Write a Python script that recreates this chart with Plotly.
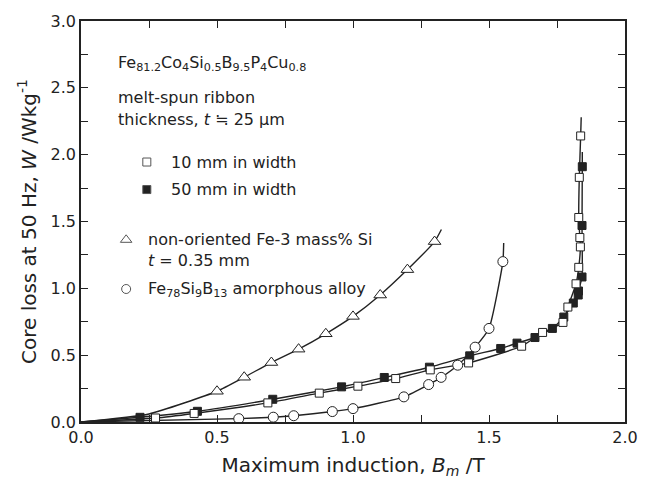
import plotly.graph_objects as go

# ---------------- data ----------------
# Fe81.2Co4Si0.5B9.5P4Cu0.8, 10 mm in width (open squares)
sq10_B = [0.274, 0.416, 0.687, 0.876, 1.018, 1.157, 1.284, 1.425, 1.62, 1.697,
          1.772, 1.79, 1.820, 1.830, 1.836, 1.834, 1.830, 1.832, 1.837]
sq10_W = [0.03, 0.064, 0.143, 0.216, 0.268, 0.325, 0.39, 0.442, 0.567, 0.67,
          0.745, 0.86, 1.034, 1.157, 1.31, 1.38, 1.53, 1.83, 2.14]
sq10_end = (1.839, 2.28)

# 50 mm in width (filled squares)
sq50_B = [0.217, 0.428, 0.705, 0.958, 1.115, 1.281, 1.429, 1.543, 1.603, 1.669,
          1.733, 1.775, 1.81, 1.828, 1.829, 1.842, 1.842, 1.843]
sq50_W = [0.035, 0.08, 0.17, 0.263, 0.333, 0.41, 0.495, 0.55, 0.59, 0.632,
          0.70, 0.785, 0.89, 0.95, 0.98, 1.085, 1.47, 1.91]
sq50_end = (1.843, 2.02)

# non-oriented Fe-3 mass% Si (open triangles)
tri_B = [0.5, 0.6, 0.7, 0.8, 0.9, 1.0, 1.1, 1.2, 1.3]
tri_W = [0.23, 0.335, 0.445, 0.545, 0.66, 0.79, 0.95, 1.14, 1.35]
tri_start = (0.25, 0.06)
tri_end = (1.325, 1.44)

# Fe78Si9B13 amorphous alloy (open circles)
cir_B = [0.58, 0.707, 0.782, 0.924, 1.0, 1.187, 1.278, 1.324, 1.385, 1.449, 1.50, 1.551]
cir_W = [0.025, 0.036, 0.047, 0.078, 0.10, 0.188, 0.28, 0.334, 0.425, 0.56, 0.70, 1.20]
cir_end = (1.554, 1.34)

x_ticks = [0.0, 0.5, 1.0, 1.5, 2.0]
y_ticks = [0.0, 0.5, 1.0, 1.5, 2.0, 2.5, 3.0]

# ---------------- styling ----------------
INK = "#222222"
FONT = "DejaVu Sans, Noto Sans CJK JP, sans-serif"
LW = 1.4

fig = go.Figure()


def add_curve(B, W, start=None, end=None):
    xs = [0.0] + ([start[0]] if start else []) + list(B) + ([end[0]] if end else [])
    ys = [0.0] + ([start[1]] if start else []) + list(W) + ([end[1]] if end else [])
    fig.add_trace(go.Scatter(x=xs, y=ys, mode="lines",
                             line=dict(color=INK, width=LW, shape="spline", smoothing=0.5),
                             hoverinfo="skip", showlegend=False))


add_curve(tri_B, tri_W, start=tri_start, end=tri_end)
add_curve(cir_B, cir_W, end=cir_end)
add_curve(sq50_B, sq50_W, end=sq50_end)
add_curve(sq10_B, sq10_W, end=sq10_end)


def add_markers(B, W, symbol, fill, size):
    fig.add_trace(go.Scatter(x=B, y=W, mode="markers",
                             marker=dict(symbol=symbol, size=size, color=fill,
                                         line=dict(color=INK, width=1)),
                             showlegend=False))


add_markers(tri_B, tri_W, "triangle-up", "white", 11)
add_markers(cir_B, cir_W, "circle", "white", 10)
add_markers(sq50_B, sq50_W, "square", INK, 8)
add_markers(sq10_B, sq10_W, "square", "white", 8)

# legend-style key markers
key = [
    (0.242, 1.945, "square", "white", 8),
    (0.242, 1.739, "square", INK, 8),
    (0.166, 1.363, "triangle-up", "white", 10),
    (0.166, 0.995, "circle", "white", 9),
]
for kx, ky, sym, col, sz in key:
    fig.add_trace(go.Scatter(x=[kx], y=[ky], mode="markers",
                             marker=dict(symbol=sym, size=sz, color=col,
                                         line=dict(color="#555555", width=1)),
                             showlegend=False, hoverinfo="skip"))

texts = [
    (0.130, 2.68, "Fe<sub>81.2</sub>Co<sub>4</sub>Si<sub>0.5</sub>B<sub>9.5</sub>P<sub>4</sub>Cu<sub>0.8</sub>"),
    (0.130, 2.43, "melt-spun ribbon"),
    (0.130, 2.26, "thickness, <i>t</i> ≒ 25 μm"),
    (0.325, 1.945, "10 mm in width"),
    (0.325, 1.739, "50 mm in width"),
    (0.239, 1.363, "non-oriented Fe-3 mass% Si"),
    (0.239, 1.209, "<i>t</i> = 0.35 mm"),
    (0.239, 0.995, "Fe<sub>78</sub>Si<sub>9</sub>B<sub>13</sub> amorphous alloy"),
]
for tx, ty, tt in texts:
    fig.add_annotation(x=tx, y=ty, xref="x", yref="y", text=tt, showarrow=False,
                       xanchor="left", yanchor="middle",
                       font=dict(family=FONT, size=16, color=INK))

axis_common = dict(
    showline=True, linecolor=INK, linewidth=1.5, mirror="ticks",
    ticks="inside", ticklen=7, tickwidth=1.2, tickcolor=INK,
    showgrid=False, zeroline=False,
    tickfont=dict(family=FONT, size=16, color=INK),
)

fig.update_xaxes(
    range=[0, 2.0], tickvals=x_ticks, ticktext=[f"{v:.1f}" for v in x_ticks],
    minor=dict(dtick=0.25, ticks="inside", ticklen=7, tickwidth=1.2, tickcolor=INK),
    title=dict(text="Maximum induction, <i>B</i><sub><i>m</i></sub> /T",
               font=dict(family=FONT, size=20, color=INK), standoff=12),
    **axis_common,
)
fig.update_yaxes(
    range=[0, 3.0], tickvals=y_ticks, ticktext=[f"{v:.1f}" for v in y_ticks],
    minor=dict(dtick=0.25, ticks="inside", ticklen=7, tickwidth=1.2, tickcolor=INK),
    title=dict(text="Core loss at 50 Hz, <i>W</i> /Wkg<sup>-1</sup>",
               font=dict(family=FONT, size=20, color=INK), standoff=9),
    **axis_common,
)

fig.update_layout(
    width=650, height=493,
    margin=dict(l=81, r=16, t=15, b=71),
    paper_bgcolor="white", plot_bgcolor="white",
    showlegend=False,
)

fig.write_html("out.html")
